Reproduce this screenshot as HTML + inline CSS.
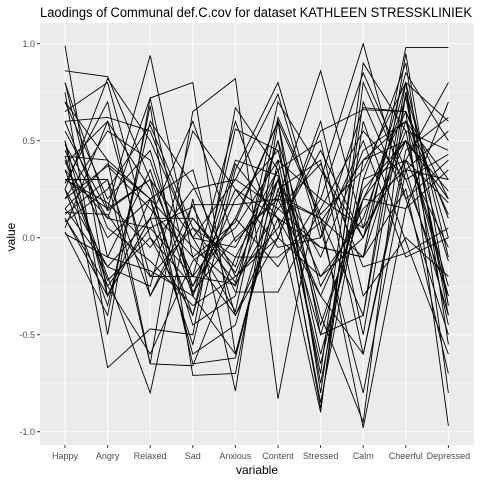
<!DOCTYPE html>
<html><head><meta charset="utf-8">
<style>
body{margin:0;background:#fff;}
svg{display:block;font-family:"Liberation Sans",Arial,sans-serif;}
</style></head>
<body>
<svg id="chart" width="480" height="480" viewBox="0 0 480 480" xmlns="http://www.w3.org/2000/svg">
<text x="40" y="17" font-size="13.5" textLength="432" lengthAdjust="spacingAndGlyphs" fill="#000">Laodings of Communal def.C.cov for dataset KATHLEEN STRESSKLINIEK</text>
<rect x="40" y="23" width="434" height="422" fill="#ebebeb"/>
<g id="grid"></g>
<g id="lines"></g>
<g id="axes"></g>
<text x="257" y="474" font-size="12" text-anchor="middle" fill="#000">variable</text>
<text transform="translate(15,237) rotate(-90)" font-size="12" text-anchor="middle" fill="#000">value</text>
</svg>
<script>
const categories=["Happy","Angry","Relaxed","Sad","Anxious","Content","Stressed","Calm","Cheerful","Depressed"];
const yTicks=[-1,-0.5,0,0.5,1];
const yTickLabels=["-1.0","-0.5","0.0","0.5","1.0"];
const yMinor=[-0.75,-0.25,0.25,0.75];
const series=[
[0.99,-0.3,0.2,-0.05,-0.25,0.3,-0.1,0.45,0.6,0.3],
[0.86,0.83,0.3,-0.2,0.1,0.6,0.1,-0.1,0.98,0.98],
[0.8,0.15,0.94,-0.1,-0.4,0.1,-0.9,0.8,0.3,-0.3],
[0.75,-0.5,0.72,0.8,-0.6,0.2,0.86,0.05,0.4,0.8],
[0.7,0.4,-0.65,0.65,0.82,-0.83,0.3,1.0,0.2,-0.5],
[0.65,0.8,0.0,-0.4,0.56,0.45,-0.4,-0.95,0.75,0.0],
[0.6,0.62,0.55,0.0,0.3,0.74,0.0,0.67,0.65,-0.97],
[0.5,-0.67,-0.47,-0.5,0.67,0.35,-0.7,0.9,0.55,0.45],
[0.42,0.4,0.2,0.35,-0.4,0.0,0.55,0.66,0.65,0.1],
[0.4,-0.2,-0.8,0.2,-0.79,0.6,-0.5,-0.4,0.8,-0.8],
[0.35,0.1,0.72,-0.3,0.4,0.32,-0.85,0.3,0.9,-0.55],
[0.3,0.15,0.3,-0.65,-0.62,0.25,0.4,-0.6,0.45,0.62],
[0.28,0.7,-0.3,0.17,0.17,0.2,-0.3,0.2,0.15,0.7],
[0.25,-0.35,0.6,0.27,-0.2,0.0,0.6,-0.3,0.0,-0.2],
[0.2,0.55,0.4,-0.25,0.1,-0.15,0.2,0.05,0.85,0.5],
[0.15,-0.15,0.1,-0.55,0.35,0.8,0.05,-0.8,0.35,-0.4],
[0.13,0.12,-0.2,0.05,-0.23,0.5,-0.75,0.4,0.5,0.24],
[0.12,0.3,-0.65,-0.66,-0.1,0.3,-0.2,0.1,0.72,-0.35],
[0.1,-0.25,0.05,0.16,-0.28,-0.28,0.15,0.55,0.3,0.43],
[0.05,0.6,-0.2,-0.2,-0.24,0.15,0.38,-0.15,-0.08,0.05],
[0.03,-0.4,0.68,-0.71,-0.7,0.4,-0.6,0.2,0.5,-0.3],
[0.45,0.0,0.2,-0.4,0.38,0.1,-0.05,-0.1,0.6,-0.12],
[0.5,-0.3,0.1,0.6,-0.02,0.22,0.1,-0.98,0.15,0.35],
[0.8,-0.1,-0.17,-0.3,0.2,0.45,-0.45,0.2,0.65,0.2],
[0.25,0.82,0.5,0.0,-0.05,0.35,-0.88,0.6,-0.02,-0.6],
[0.35,-0.22,0.0,-0.25,0.25,0.1,-0.3,-0.6,0.4,0.18],
[0.55,0.14,0.3,0.0,-0.38,0.62,0.12,0.35,0.8,-0.1],
[0.2,0.37,0.15,-0.1,0.08,0.6,-0.8,0.7,0.2,0.4],
[0.6,0.05,-0.12,-0.35,-0.2,0.05,0.45,0.0,0.55,-0.45],
[0.08,0.25,0.58,0.05,-0.1,-0.1,0.08,0.4,0.6,0.12],
[0.3,0.18,-0.05,0.25,0.3,0.15,-0.05,-0.1,0.25,-0.7],
[0.42,-0.25,-0.6,-0.12,0.05,0.4,0.2,0.85,0.35,0.3],
[0.7,0.2,0.45,-0.28,0.0,0.2,0.1,-0.4,0.95,-0.35],
[0.1,-0.3,0.1,0.1,-0.15,0.5,-0.25,0.15,0.35,0.55],
[0.38,0.6,0.25,-0.45,-0.3,0.7,0.35,0.0,0.5,-0.25],
[0.25,-0.15,-0.25,0.55,0.25,-0.05,0.0,0.5,-0.1,0.0],
[0.15,0.38,0.2,-0.6,-0.45,0.3,-0.65,0.3,0.4,-0.05],
[0.48,0.1,0.05,-0.2,0.6,0.0,-0.2,0.0,0.8,0.6],
[0.02,-0.1,0.35,-0.3,-0.6,0.25,-0.5,0.25,0.5,0.2],
[0.3,0.3,-0.3,0.1,-0.18,0.35,0.5,-0.5,0.75,-0.4]
];
const NS="http://www.w3.org/2000/svg";
const X0=65,DX=42.6;
function xPos(i){return X0+i*DX;}
function yPos(v){return 237.7-v*194;}
const grid=document.getElementById('grid');
function mk(tag,attrs,parent){const e=document.createElementNS(NS,tag);for(const k in attrs)e.setAttribute(k,attrs[k]);parent.appendChild(e);return e;}
yMinor.forEach(v=>{const l=mk('line',{x1:40,x2:474,y1:yPos(v),y2:yPos(v),stroke:'#fff','stroke-width':0.5},grid);

});
yTicks.forEach(v=>{const l=mk('line',{x1:40,x2:474,y1:yPos(v),y2:yPos(v),stroke:'#fff','stroke-width':1},grid);

});
categories.forEach((c,i)=>{const l=mk('line',{x1:xPos(i),x2:xPos(i),y1:23,y2:445,stroke:'#fff','stroke-width':1},grid);

});
const lines=document.getElementById('lines');
series.forEach((s,k)=>{const p=mk('polyline',{points:s.map((v,i)=>xPos(i)+','+yPos(v)).join(' '),fill:'none',stroke:'#000','stroke-width':0.9},lines);

});
const axes=document.getElementById('axes');
yTicks.forEach((v,i)=>{mk('line',{x1:37,x2:40,y1:yPos(v),y2:yPos(v),stroke:'#333'},axes);
const t=mk('text',{x:35,y:yPos(v)+3.5,'font-size':9,'text-anchor':'end',fill:'#4d4d4d'},axes);t.textContent=yTickLabels[i];

});
categories.forEach((c,i)=>{mk('line',{x1:xPos(i),x2:xPos(i),y1:445,y2:448,stroke:'#333'},axes);
const t=mk('text',{x:xPos(i),y:459,'font-size':9,'text-anchor':'middle',fill:'#4d4d4d'},axes);t.textContent=c;

});
</script>
</body></html>
